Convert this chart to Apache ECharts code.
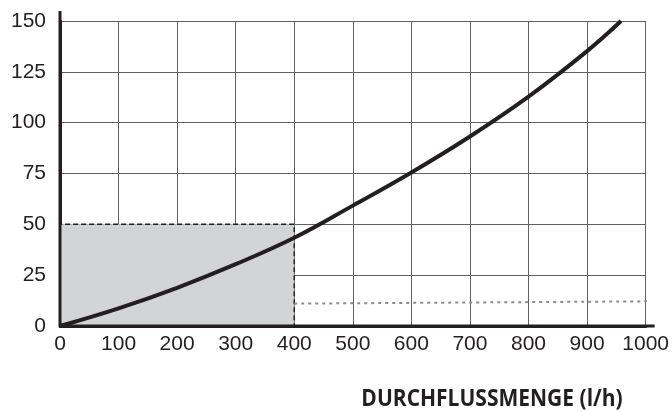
<!DOCTYPE html>
<html><head><meta charset="utf-8">
<script src="https://cdn.jsdelivr.net/npm/echarts@6/dist/echarts.min.js"></script>
<style>html,body{margin:0;padding:0;background:#fff}#c{width:672px;height:412px}</style>
</head><body><div id="c"></div>
<script>
const flowX = [0, 100, 200, 300, 400, 500, 600, 700, 800, 900, 958];
const curveY = [0, 8.7, 18.8, 30.4, 43.4, 59.2, 75.5, 93.2, 112.8, 135.2, 150];
const shadedX = [0, 400];
const shadedY = [0, 50];
const dottedX = [400, 1045];
const dottedY = [11, 12.2];
const xTicks = [0, 1000, 100];
const yTicks = [0, 150, 25];
const xTitle = 'DURCHFLUSSMENGE (l/h)';

const chart = echarts.init(document.getElementById('c'));
const txt = {color: '#231f20', fontFamily: 'Liberation Sans', fontSize: 21};
chart.setOption({
  animation: false,
  grid: {left: 60, right: 26, top: 21, bottom: 86},
  xAxis: {
    type: 'value', min: xTicks[0], max: xTicks[1], interval: xTicks[2],
    axisLine: {show: true, onZero: false, lineStyle: {color: '#231f20', width: 3}},
    axisTick: {show: false},
    axisLabel: Object.assign({margin: 8, formatter: v => String(v)}, txt),
    splitLine: {show: true, lineStyle: {color: '#5f6062', width: 1}}
  },
  yAxis: {
    type: 'value', min: yTicks[0], max: yTicks[1], interval: yTicks[2],
    axisLine: {show: true, onZero: false, lineStyle: {color: '#231f20', width: 3}},
    axisTick: {show: false},
    axisLabel: Object.assign({margin: 14}, txt),
    splitLine: {show: true, lineStyle: {color: '#5f6062', width: 1}}
  },
  series: [
    {
      type: 'line', data: [], silent: true,
      markArea: {
        silent: true,
        itemStyle: {color: '#d3d4d6', borderColor: '#231f20', borderWidth: 1.5, borderType: [5, 3]},
        data: [[{coord: [shadedX[0], shadedY[0]]}, {coord: [shadedX[1], shadedY[1]]}]]
      },
      z: 1
    },
    {
      type: 'line', clip: false, symbol: 'none', silent: true,
      data: dottedX.map((x, i) => [x, dottedY[i]]),
      lineStyle: {color: '#8a8b8d', width: 2, type: [3, 4]}, z: 3
    },
    {
      type: 'line', symbol: 'none', smooth: 0.4, silent: true,
      data: flowX.map((x, i) => [x, curveY[i]]),
      lineStyle: {color: '#231f20', width: 4}, z: 4
    }
  ]
});
const p0 = chart.convertToPixel({gridIndex: 0}, [0, 0]);
const pX = chart.convertToPixel({gridIndex: 0}, [1000, 150]);
chart.setOption({
  graphic: [
    {type: 'line', shape: {x1: p0[0], y1: p0[1], x2: p0[0], y2: pX[1] - 10}, style: {stroke: '#231f20', lineWidth: 3}, z: 10},
    {type: 'line', shape: {x1: p0[0], y1: p0[1], x2: pX[0] + 9, y2: p0[1]}, style: {stroke: '#231f20', lineWidth: 3}, z: 10},
    {type: 'text', x: 492, y: 411, scaleY: 1.12, originX: 0, originY: 0,
     style: {text: xTitle, fill: '#231f20', font: 'bold 21px "Open Sans"', align: 'center', verticalAlign: 'bottom'}}
  ]
});
</script></body></html>
